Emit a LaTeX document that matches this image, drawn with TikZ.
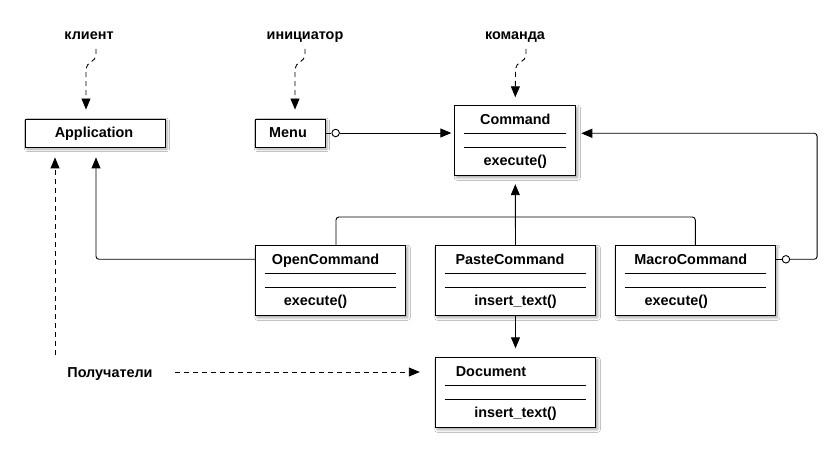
\documentclass[tikz,border=0pt]{standalone}
\usepackage{fontspec}
\setmainfont{Liberation Sans}
\usetikzlibrary{arrows.meta,shadows.blur,calc}

% A UML class: name, centre x, top y, width, title, title shift, operation, operation shift
\newcommand\umlclass[8]{%
  \node[box, minimum width=#4, minimum height=70pt, anchor=north] (#1) at (#2,#3) {};
  \draw[line] ([xshift=10pt,yshift=-28pt]#1.north west) -- ([xshift=-10pt,yshift=-28pt]#1.north east);
  \draw[line] ([xshift=10pt,yshift=-42pt]#1.north west) -- ([xshift=-10pt,yshift=-42pt]#1.north east);
  \node[txt] (#1-name) at ([xshift=#6,yshift=-19pt]#1.north) {#5};
  \node[txt] (#1-op) at ([xshift=#8,yshift=-60pt]#1.north) {#7};
}

\begin{document}
\begin{tikzpicture}[x=1pt,y=1pt,
  txt/.style={font=\fontsize{14.4}{17}\selectfont\bfseries, inner sep=0pt, anchor=base},
  box/.style={draw, line width=0.9pt, fill=white, inner sep=0pt,
    blur shadow={shadow xshift=2pt, shadow yshift=-2pt, shadow blur radius=2.5pt, shadow opacity=35}},
  line/.style={line width=0.9pt},
  tip/.style={-{Triangle[length=11pt,width=9pt]}},
  dep/.style={line, tip, dash pattern=on 5pt off 4pt},
  conn/.style={line, rounded corners=3pt},
  lolly/.style={circle, draw, line width=0.9pt, fill=white, inner sep=0pt, minimum size=7.5pt}
]
\useasboundingbox (0,0) rectangle (840,-462);
\fill[white] (0,0) rectangle (840,-462);

% participants
\node[box, minimum width=140pt, minimum height=28pt] (app) at (95,-133) {};
\node[txt] (app-name) at ([xshift=-1pt,yshift=-5pt]app.center) {Application};
\node[box, minimum width=70pt, minimum height=28pt] (menu) at (290,-133) {};
\node[txt] (menu-name) at ([xshift=-2pt,yshift=-5pt]menu.center) {Menu};

\umlclass{cmd}{515.3}{-105.3}{121pt}{Command}{0pt}{execute()}{0pt}
\umlclass{open}{330.5}{-245.3}{150.5pt}{OpenCommand}{-5pt}{execute()}{-15pt}
\umlclass{paste}{515.5}{-245.3}{160.5pt}{PasteCommand}{-5.5pt}{insert\_text()}{0pt}
\umlclass{macro}{695.3}{-245.3}{160pt}{MacroCommand}{-4.5pt}{execute()}{-19pt}
\umlclass{doc}{515.5}{-357.3}{160.5pt}{Document}{-24.5pt}{insert\_text()}{0pt}

% role labels
\node[txt] (lk) at (89,-40) {клиент};
\node[txt] (li) at (305,-40) {инициатор};
\node[txt] (lc) at (515,-40) {команда};
\node[txt] (lr) at (110,-377) {Получатели};

% role pointers
\draw[dep] ([xshift=7pt,yshift=-9pt]lk.base) -- ++(0,-6) to[out=-90,in=90] ++(-10,-14)
  -- ([xshift=-9pt,yshift=9pt]app.north);
\draw[dep] ([yshift=-9pt]li.base) -- ++(0,-6) to[out=-90,in=90] ++(-10,-14)
  -- ([xshift=5pt,yshift=9pt]menu.north);
\draw[dep] ([xshift=11pt,yshift=-9pt]lc.base) -- ++(0,-6) to[out=-90,in=90] ++(-10.5,-14)
  -- ([yshift=8pt]cmd.north);

% receivers
\coordinate (rv) at (55,-355);
\coordinate (rh) at (175,-372);
\draw[dep, shorten >=10pt] (rv) -- (rv |- app.south);
\draw[dep, shorten >=15pt] (rh) -- (rh -| doc.west);

% invoker holds a command
\draw[line] (menu.east) -- ++(6,0) node[lolly, anchor=west] (mlol) {};
\draw[line, tip, shorten >=3pt] (mlol.east) -- (mlol.east -| cmd.west);

% macro command aggregates commands
\draw[line] ([yshift=-14pt]macro.north east) -- ++(6,0) node[lolly, anchor=west] (rlol) {};
\draw[conn, tip] (rlol.east) -- ++(27,0) |- ([xshift=5pt,yshift=-28pt]cmd.north east);

% inheritance
\coordinate (gen) at (515.5,-217);
\draw[conn] ([xshift=5.5pt]open.north) |- (gen) -| (macro.north);
\draw[line, tip] (paste.north) -- ([yshift=-8pt]cmd.south);

% associations
\draw[conn, tip] ([yshift=-14pt]open.north west) -| ([xshift=1pt,yshift=-10pt]app.south);
\draw[line, tip] (paste.south) -- ([yshift=9pt]doc.north);
\end{tikzpicture}
\end{document}
